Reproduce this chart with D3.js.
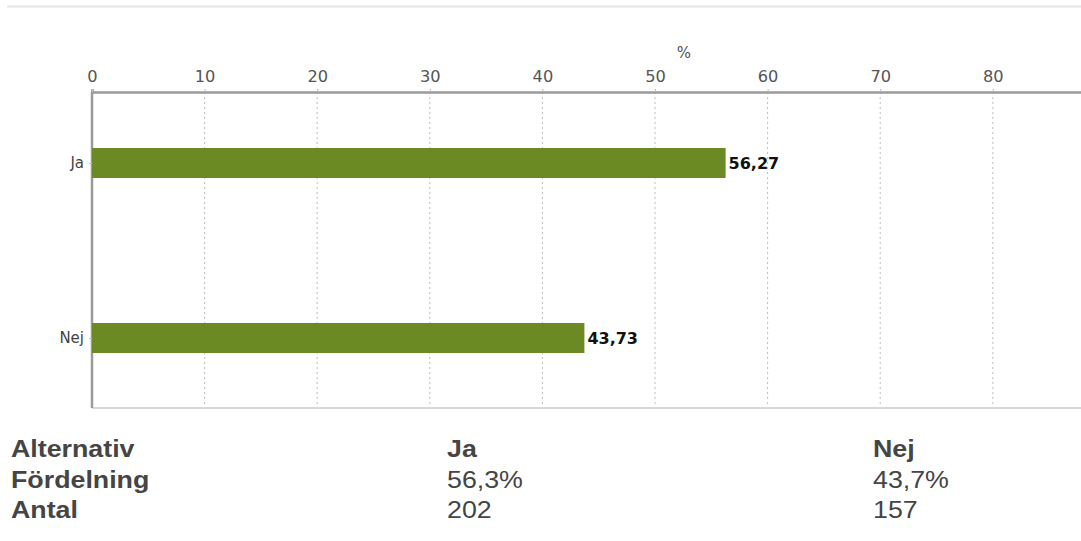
<!DOCTYPE html>
<html><head><meta charset="utf-8">
<script src="https://cdn.jsdelivr.net/npm/d3@7"></script>
<style>body{margin:0;background:#fff}svg{display:block}</style>
</head><body>
<svg id="c" width="1081" height="541"></svg>
<script>
const categories = ["Ja", "Nej"];
const values = [56.27, 43.73];
const valueLabels = ["56,27", "43,73"];
const xTicks = [0, 10, 20, 30, 40, 50, 60, 70, 80];
const tableRowHeads = ["Alternativ", "Fördelning", "Antal"];
const shares = ["56,3%", "43,7%"];
const counts = ["202", "157"];

const svg = d3.select("#c");
const plotLeft = 92, plotTop = 92, plotBottom = 408;
const x = d3.scaleLinear().domain([0, 90]).range([plotLeft, plotLeft + 90 * 11.26]);
const y = d3.scalePoint().domain(categories).range([163, 338]);
const barH = 30;

// top light rule
svg.append("line").attr("x1", 7).attr("x2", 1081).attr("y1", 6.5).attr("y2", 6.5)
  .attr("stroke", "#e6e6e6").attr("stroke-width", 2);

// grid
svg.append("g").selectAll("line").data(xTicks.filter(d => d > 0)).join("line")
  .attr("x1", d => x(d)).attr("x2", d => x(d)).attr("y1", plotTop).attr("y2", plotBottom)
  .attr("stroke", "#bdbdbd").attr("stroke-dasharray", "2,3").attr("stroke-width", 1);

// bottom line
svg.append("line").attr("x1", plotLeft).attr("x2", 1081).attr("y1", plotBottom).attr("y2", plotBottom)
  .attr("stroke", "#d8d8d8").attr("stroke-width", 2);

// top axis
const ax = svg.append("g").attr("transform", `translate(0,${plotTop})`)
  .call(d3.axisTop(x).tickValues(xTicks).tickSize(3).tickPadding(7).tickFormat(d3.format("d")));
ax.select(".domain").attr("stroke", "#9a9a9a").attr("stroke-width", 2.5);
ax.selectAll(".tick line").attr("stroke", "#bbb");
ax.selectAll(".tick text").attr("fill", "#555").style("font", "15px 'DejaVu Sans'")
  .attr("transform", "scale(1.08,1)");

svg.append("text").attr("x", 684).attr("y", 58).attr("text-anchor", "middle")
  .attr("fill", "#555").style("font", "15px 'DejaVu Sans'").text("%");

// left axis
const ay = svg.append("g").attr("transform", `translate(${plotLeft},0)`)
  .call(d3.axisLeft(y).tickSize(3).tickPadding(5));
ay.select(".domain").attr("d", `M0,${plotTop}V${plotBottom}`).attr("stroke", "#9a9a9a").attr("stroke-width", 2.5);
ay.selectAll(".tick line").attr("stroke", "#bbb");
ay.selectAll(".tick text").attr("fill", "#444").style("font", "15px 'DejaVu Sans'");

// bars
svg.append("g").selectAll("rect").data(categories).join("rect")
  .attr("x", x(0)).attr("y", d => y(d) - barH / 2)
  .attr("width", (d, i) => x(values[i]) - x(0)).attr("height", barH)
  .attr("fill", "#6b8a23");

svg.append("g").selectAll("text").data(categories).join("text")
  .attr("x", (d, i) => x(values[i]) + 3).attr("y", d => y(d)).attr("dy", "0.36em")
  .attr("fill", "#111").style("font", "bold 16px 'DejaVu Sans'")
  .text((d, i) => valueLabels[i]);

// table
const sx = 1.14;
const tbl = svg.append("g").attr("transform", `scale(${sx},1)`);
const rowY = [457, 488, 518];
const colX = [11 / sx, 447 / sx, 873 / sx];
tbl.selectAll("text.h").data(tableRowHeads).join("text").attr("class", "h")
  .attr("x", colX[0]).attr("y", (d, i) => rowY[i])
  .attr("fill", "#454545").style("font", "bold 23.5px 'Liberation Sans'").text(d => d);
categories.forEach((c, j) => {
  const cells = [c, shares[j], counts[j]];
  tbl.append("g").selectAll("text").data(cells).join("text")
    .attr("x", colX[j + 1]).attr("y", (d, i) => rowY[i])
    .attr("fill", "#454545")
    .style("font", (d, i) => (i === 0 ? "bold " : "") + "23.5px 'Liberation Sans'")
    .text(d => d);
});
</script>
</body></html>
